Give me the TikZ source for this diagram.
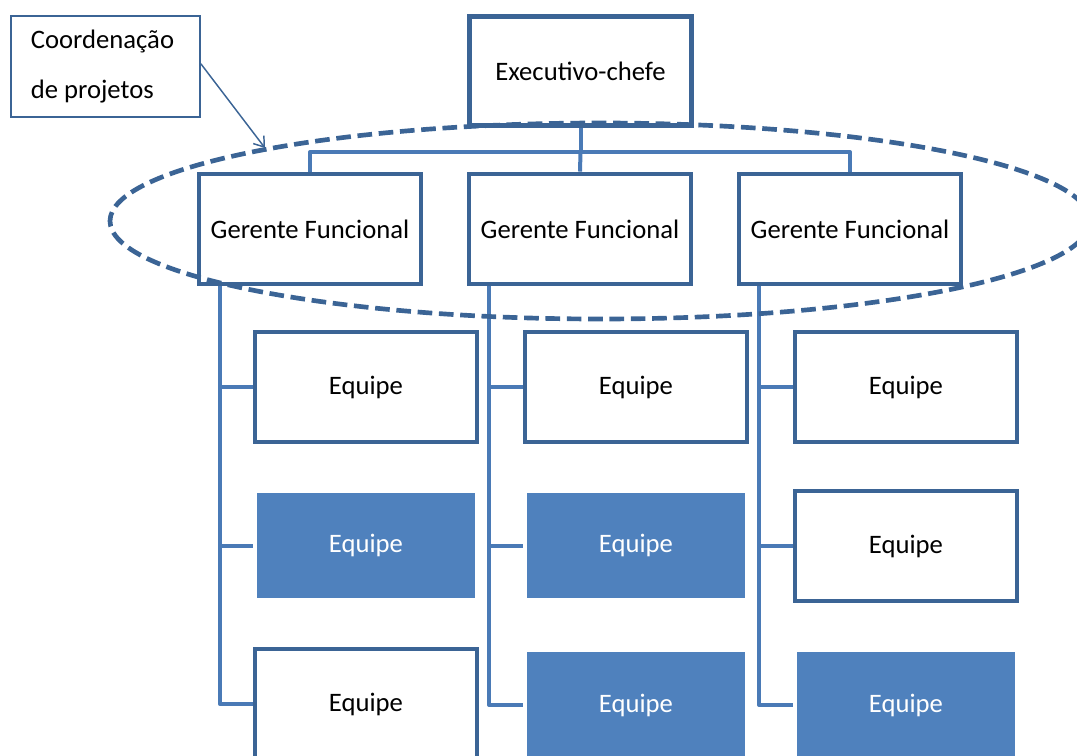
\documentclass[tikz,border=0pt]{standalone}
\usepackage{fontspec}
\setmainfont{Carlito}
\usetikzlibrary{arrows.meta,backgrounds}

\definecolor{boxline}{HTML}{3B6495}
\definecolor{linkline}{HTML}{4A7AB6}
\definecolor{teamfill}{HTML}{4F81BD}

\tikzset{
	orgbox/.style = {draw=boxline, line width=3.7pt, fill=white, minimum width=166.5pt, minimum height=82.5pt, inner sep=0pt, font=\fontsize{20}{24}\selectfont},
	teamfilled/.style = {orgbox, draw=white, fill=teamfill, text=white},
	link/.style = {draw=linkline, line width=3pt, line join=round},
}

\begin{document}
\begin{tikzpicture}[x=0.75pt, y=-0.75pt]
		\useasboundingbox (0,0) rectangle (1077,756);

		\draw (105.5,66.5) node[draw=boxline, line width=1.1pt, minimum width=141.75pt, minimum height=75.75pt, text width=112pt, inner xsep=15pt, align=flush left, font=\fontsize{20}{37}\selectfont] (coord) {Coordenação\\de projetos};
		\draw (580.5,71) node[orgbox, minimum height=81.75pt] (exec) {Executivo-chefe};

		\draw (310,229) node[orgbox] (gf1) {Gerente Funcional};
		\draw (580,229) node[orgbox] (gf2) {Gerente Funcional};
		\draw (850,229) node[orgbox] (gf3) {Gerente Funcional};

		\draw (366,387) node[orgbox] (eq11) {Equipe};
		\draw (366,545.5) node[teamfilled] (eq12) {Equipe};
		\draw (366,704) node[orgbox] (eq13) {Equipe};

		\draw (636,387) node[orgbox] (eq21) {Equipe};
		\draw (636,545.5) node[teamfilled] (eq22) {Equipe};
		\draw (636,705) node[teamfilled] (eq23) {Equipe};

		\draw (906,387) node[orgbox] (eq31) {Equipe};
		\draw (906,546) node[orgbox] (eq32) {Equipe};
		\draw (906,705) node[teamfilled] (eq33) {Equipe};

		\begin{scope}[on background layer]
			\draw[link] (exec.south) -- ++(0,24) coordinate (bus) -| (gf1.north);
			\draw[link] (bus) -| (gf3.north);
			\draw[link] (bus) -- (gf2.north);

			\coordinate (v1) at ([xshift=17.5pt]gf1.south west);
			\coordinate (v2) at ([xshift=17pt]gf2.south west);
			\coordinate (v3) at ([xshift=17pt]gf3.south west);

			\draw[link] (v1) |- (eq13.west);
			\draw[link] (v1 |- eq11.west) -- (eq11.west);
			\draw[link] (v1 |- eq12.west) -- (eq12.west);

			\draw[link] (v2) |- (eq23.west);
			\draw[link] (v2 |- eq21.west) -- (eq21.west);
			\draw[link] (v2 |- eq22.west) -- (eq22.west);

			\draw[link] (v3) |- (eq33.west);
			\draw[link] (v3 |- eq31.west) -- (eq31.west);
			\draw[link] (v3 |- eq32.west) -- (eq32.west);
		\end{scope}

		% grupo de gerentes
		\draw[boxline, line width=3.5pt, dash pattern=on 11pt off 5pt] (600,221) ellipse [x radius=490, y radius=98];

		\coordinate (tip) at (265,148);
		\draw[boxline, line width=1.1pt, -{Straight Barb[length=7pt, width=10pt]}] ([yshift=2pt]coord.east) -- (tip);
	\end{tikzpicture}
\end{document}
